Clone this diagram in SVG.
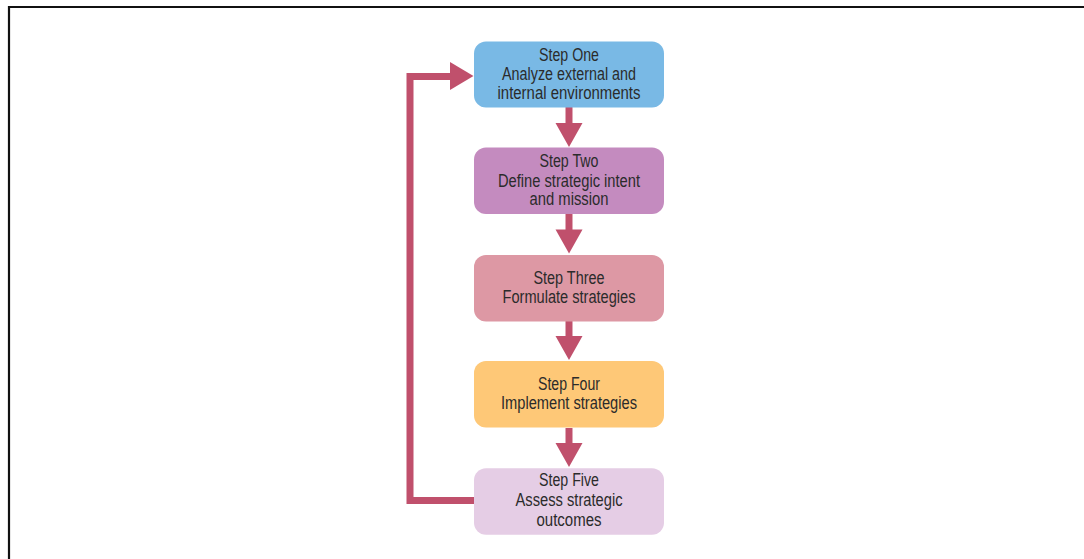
<svg xmlns="http://www.w3.org/2000/svg" width="1084" height="559" viewBox="0 0 1084 559">
<style>
.t{font-family:"Liberation Sans",Arial,sans-serif;font-size:17.5px;fill:#2b2b2b;text-anchor:middle}
.box{stroke:none}
.ln{fill:none;stroke:#c0506c;stroke-width:7}
.hd{fill:#c0506c}
</style>
<rect width="1084" height="559" fill="#fff"/>
<path d="M9,559 V7 H1084" fill="none" stroke="#111" stroke-width="2.2"/>
<g id="connectors">
<path class="ln" d="M569,107 V124"/><polygon class="hd" points="555.5,123 582.5,123 569,147"/>
<path class="ln" d="M569,214 V230"/><polygon class="hd" points="555.5,229.5 582.5,229.5 569,253.5"/>
<path class="ln" d="M569,321 V337"/><polygon class="hd" points="555.5,336 582.5,336 569,360"/>
<path class="ln" d="M569,428 V444"/><polygon class="hd" points="555.5,443 582.5,443 569,467"/>
<path class="ln" d="M474,500.5 H410 V76.5 H452"/><polygon class="hd" points="450,62 450,90 473.5,76"/>
</g>
<g id="step1">
<rect class="box" x="474" y="41.5" width="190" height="66" rx="12" fill="#79b9e5"/>
<text class="t" x="569" y="60.5" textLength="60" lengthAdjust="spacingAndGlyphs">Step One</text>
<text class="t" x="569" y="80" textLength="134" lengthAdjust="spacingAndGlyphs">Analyze external and</text>
<text class="t" x="569" y="98.5" textLength="143" lengthAdjust="spacingAndGlyphs">internal environments</text>
</g>
<g id="step2">
<rect class="box" x="474" y="147.5" width="190" height="66.5" rx="12" fill="#c48bbf"/>
<text class="t" x="569" y="166.5" textLength="59" lengthAdjust="spacingAndGlyphs">Step Two</text>
<text class="t" x="569" y="186.5" textLength="142" lengthAdjust="spacingAndGlyphs">Define strategic intent</text>
<text class="t" x="569" y="205" textLength="79" lengthAdjust="spacingAndGlyphs">and mission</text>
</g>
<g id="step3">
<rect class="box" x="474" y="255" width="190" height="66.5" rx="12" fill="#dd98a4"/>
<text class="t" x="569" y="284" textLength="71" lengthAdjust="spacingAndGlyphs">Step Three</text>
<text class="t" x="569" y="302.5" textLength="133" lengthAdjust="spacingAndGlyphs">Formulate strategies</text>
</g>
<g id="step4">
<rect class="box" x="474" y="361" width="190" height="66.5" rx="12" fill="#fec877"/>
<text class="t" x="569" y="390" textLength="62" lengthAdjust="spacingAndGlyphs">Step Four</text>
<text class="t" x="569" y="409" textLength="136" lengthAdjust="spacingAndGlyphs">Implement strategies</text>
</g>
<g id="step5">
<rect class="box" x="474" y="468.3" width="190" height="66.5" rx="12" fill="#e5cde5"/>
<text class="t" x="569" y="486" textLength="60" lengthAdjust="spacingAndGlyphs">Step Five</text>
<text class="t" x="569" y="506" textLength="107" lengthAdjust="spacingAndGlyphs">Assess strategic</text>
<text class="t" x="569" y="525.5" textLength="65" lengthAdjust="spacingAndGlyphs">outcomes</text>
</g>
</svg>
